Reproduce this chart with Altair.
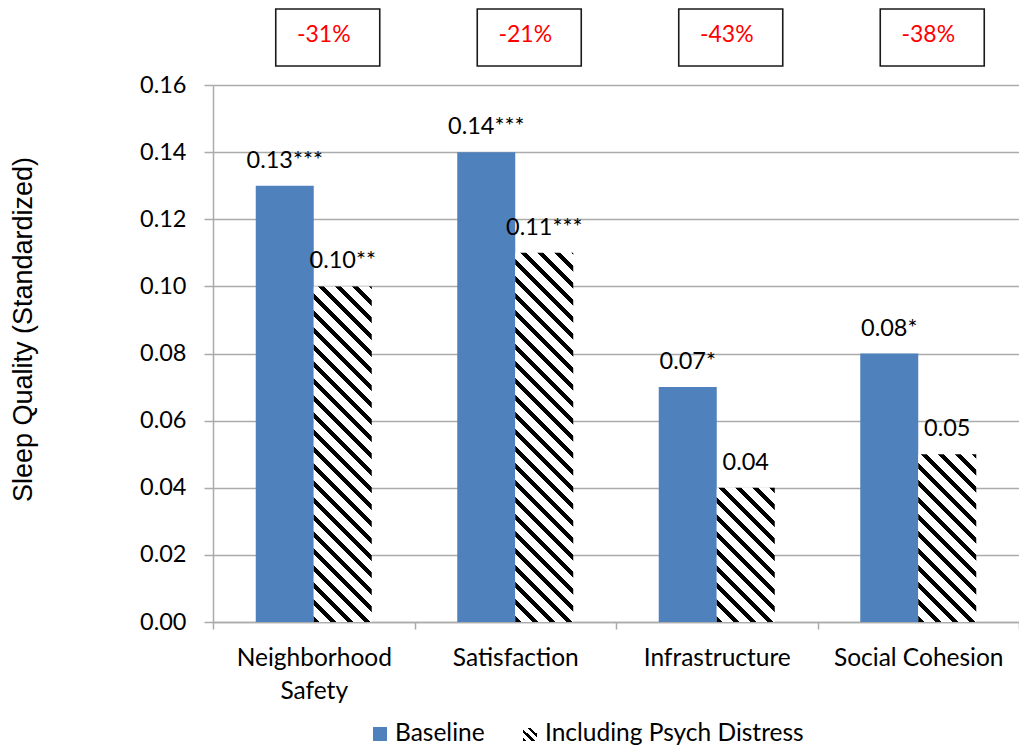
import altair as alt
import pandas as pd

# ---------------- data ----------------
categories = ["Neighborhood Safety", "Satisfaction", "Infrastructure", "Social Cohesion"]
series = ["Baseline", "Including Psych Distress"]
baseline_values = [0.13, 0.14, 0.07, 0.08]
distress_values = [0.10, 0.11, 0.04, 0.05]
baseline_labels = ["0.13***", "0.14***", "0.07*", "0.08*"]
distress_labels = ["0.10**", "0.11***", "0.04", "0.05"]
change_labels = ["-31%", "-21%", "-43%", "-38%"]
y_ticks = [0.00, 0.02, 0.04, 0.06, 0.08, 0.10, 0.12, 0.14, 0.16]
y_title = "Sleep Quality (Standardized)"

# ---------------- layout / style ----------------
W, H = 806, 537
LEFT, TOP = 213, 85
YMAX = 0.16
STEP = W / len(categories)
BAR_W = 58
SUB_PAD = (STEP / BAR_W - 2) / 2
BLUE = "#4F81BD"
GRID = "#ABABAB"
FONT = "Lato"

rows = []
for c, bv, dv, bl, dl in zip(categories, baseline_values, distress_values, baseline_labels, distress_labels):
    rows.append({"category": c, "series": series[0], "value": bv, "label": bl})
    rows.append({"category": c, "series": series[1], "value": dv, "label": dl})
df = pd.DataFrame(rows)
df_change = pd.DataFrame({"category": categories, "change": change_labels})


def hatch(w, h, period=17.0, frac=0.36):
    r = w / h
    c = (r + 1) / (r * r + 1)
    n = (w + h) / period
    stops = []
    i = 0
    while i < n:
        a = i / n
        b = min((i + frac) / n, 1.0)
        e = min((i + 1) / n, 1.0)
        stops += [(a, "#000000"), (b, "#000000"), (b, "#ffffff"), (e, "#ffffff")]
        i += 1
    return alt.LinearGradient(
        gradient="linear",
        stops=[alt.GradientStop(offset=o, color=col) for o, col in stops],
        x1=0, y1=1, x2=c * r, y2=1 - c,
    )


X = alt.X(
    "category:N",
    sort=categories,
    scale=alt.Scale(domain=categories, paddingInner=0, paddingOuter=0),
    axis=alt.Axis(
        title=None, grid=False, labelAngle=0, tickBand="extent",
        domainColor=GRID, domainWidth=1.5, tickColor=GRID, tickWidth=1.5, tickSize=7,
        labelFont=FONT, labelFontSize=24.5, labelColor="#000000", labelPadding=17,
        labelLineHeight=33,
        labelExpr="datum.label == 'Neighborhood Safety' ? ['Neighborhood', 'Safety'] : datum.label",
    ),
)
XO = alt.XOffset("series:N", sort=series,
                 scale=alt.Scale(domain=series, paddingInner=0, paddingOuter=SUB_PAD))
Y = alt.Y(
    "value:Q",
    scale=alt.Scale(domain=[0, YMAX], nice=False, zero=True),
    axis=alt.Axis(
        values=y_ticks, format=".2f", title=y_title,
        grid=True, gridColor=GRID, gridWidth=1.5,
        domainColor=GRID, domainWidth=1.5, tickColor=GRID, tickWidth=1.5, tickSize=9,
        labelFont=FONT, labelFontSize=23.5, labelColor="#000000", labelPadding=18,
        titleFont="Liberation Sans", titleFontSize=27, titleFontWeight="normal",
        titleColor="#000000", titleAngle=270, titleX=-182, titleY=244,
        titleAlign="center", titleBaseline="alphabetic",
    ),
)

base = alt.Chart(df)

blue_bars = base.mark_bar(fill=BLUE).encode(x=X, xOffset=XO, y=Y).transform_filter(
    alt.datum.series == series[0])

hatched_layers = []
for c, dv in zip(categories, distress_values):
    g = hatch(BAR_W, dv / YMAX * H)
    hatched_layers.append(
        base.mark_bar(fill=g).encode(x=X, xOffset=XO, y=Y).transform_filter(
            (alt.datum.series == series[1]) & (alt.datum.category == c))
    )

value_text = base.mark_text(font=FONT, fontSize=23.5, color="#000000",
                            baseline="alphabetic", dy=-18).encode(
    x=X, xOffset=XO, y=Y, text="label:N")

boxes = alt.Chart(df_change).mark_bar(width=104, fill="white", stroke="#1a1a1a",
                                      strokeWidth=1.6, xOffset=14).encode(
    x=X, y=alt.value(-76), y2=alt.value(-19))
box_text = alt.Chart(df_change).mark_text(font=FONT, fontSize=23, color="#FF0000",
                                          baseline="middle", dx=10).encode(
    x=X, y=alt.value(-50), text="change:N")

# legend (manual)
leg_df = pd.DataFrame({"series": series})
leg_blue = alt.Chart(leg_df).transform_filter(alt.datum.series == series[0]).mark_rect(
    fill=BLUE).encode(x=alt.value(160), x2=alt.value(174), y=alt.value(642), y2=alt.value(656))
leg_blue_t = alt.Chart(leg_df).transform_filter(alt.datum.series == series[0]).mark_text(
    font=FONT, fontSize=24.5, color="#000000", align="left", baseline="alphabetic").encode(
    x=alt.value(182), y=alt.value(656), text="series:N")
leg_hatch = alt.Chart(leg_df).transform_filter(alt.datum.series == series[1]).mark_rect(
    fill=hatch(14, 14, period=9, frac=0.4)).encode(
    x=alt.value(310), x2=alt.value(324), y=alt.value(643), y2=alt.value(656))
leg_hatch_t = alt.Chart(leg_df).transform_filter(alt.datum.series == series[1]).mark_text(
    font=FONT, fontSize=24.5, color="#000000", align="left", baseline="alphabetic").encode(
    x=alt.value(332), y=alt.value(656), text="series:N")

chart = alt.layer(
    blue_bars, *hatched_layers, value_text, boxes, box_text,
    leg_blue, leg_blue_t, leg_hatch, leg_hatch_t,
).properties(
    width=W, height=H,
    autosize=alt.AutoSizeParams(type="none"),
    padding={"left": LEFT, "top": TOP, "right": 0, "bottom": 753 - TOP - H},
    background="white",
).configure_view(stroke=None)

chart.save("out.html", embed_options={"renderer": "svg", "actions": False})
